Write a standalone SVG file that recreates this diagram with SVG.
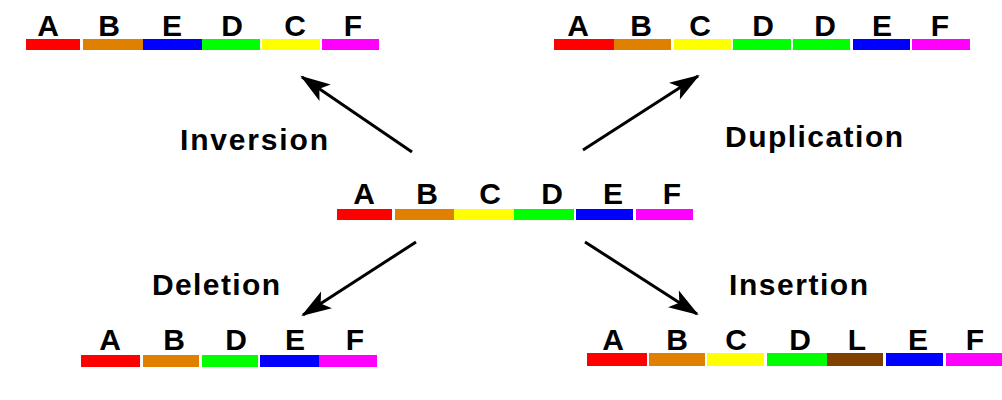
<svg xmlns="http://www.w3.org/2000/svg" width="1002" height="400" viewBox="0 0 1002 400">
<defs>
<style>
.lt{font-family:"Liberation Sans",Arial,sans-serif;font-weight:bold;font-size:30px;fill:#000;text-anchor:middle}
.lb{font-family:"Liberation Sans",Arial,sans-serif;font-weight:bold;font-size:30px;fill:#000}
.r{fill:#ff0000}.o{fill:#e08000}.y{fill:#ffff00}.g{fill:#00ff00}.b{fill:#0000ff}.m{fill:#ff00ff}.br{fill:#804000}
.arr{stroke:#000;stroke-width:3;fill:none;marker-end:url(#ah)}
</style>
<marker id="ah" viewBox="-30 -11 34 22" refX="0" refY="0" markerWidth="34" markerHeight="22" markerUnits="userSpaceOnUse" orient="auto">
<path d="M2,0 L-28,-10 L-21,0 L-28,10 Z" fill="#000"/>
</marker>
</defs>
<rect width="1002" height="400" fill="#fff"/>

<g id="inversion-chrom">
<rect class="r" x="26" y="39" width="54" height="11"/>
<rect class="o" x="83" y="39" width="60" height="11"/>
<rect class="b" x="143" y="39" width="59" height="11"/>
<rect class="g" x="202" y="39" width="58" height="11"/>
<rect class="y" x="262" y="39" width="58" height="11"/>
<rect class="m" x="322" y="39" width="57" height="11"/>
<text class="lt" x="48" y="35.5">A</text>
<text class="lt" x="109" y="35.5">B</text>
<text class="lt" x="172" y="35.5">E</text>
<text class="lt" x="232" y="35.5">D</text>
<text class="lt" x="295" y="35.5">C</text>
<text class="lt" x="353" y="35.5">F</text>
</g>

<g id="duplication-chrom">
<rect class="r" x="554" y="39" width="60" height="11"/>
<rect class="o" x="614" y="39" width="57" height="11"/>
<rect class="y" x="674" y="39" width="57" height="11"/>
<rect class="g" x="733" y="39" width="58" height="11"/>
<rect class="g" x="793" y="39" width="57" height="11"/>
<rect class="b" x="853" y="39" width="57" height="11"/>
<rect class="m" x="912" y="39" width="58" height="11"/>
<text class="lt" x="578" y="35.5">A</text>
<text class="lt" x="641" y="35.5">B</text>
<text class="lt" x="700" y="35.5">C</text>
<text class="lt" x="763" y="35.5">D</text>
<text class="lt" x="825" y="35.5">D</text>
<text class="lt" x="882" y="35.5">E</text>
<text class="lt" x="940" y="35.5">F</text>
</g>

<g id="original-chrom">
<rect class="r" x="337" y="209" width="55" height="11"/>
<rect class="o" x="395" y="209" width="59" height="11"/>
<rect class="y" x="454" y="209" width="60" height="11"/>
<rect class="g" x="514" y="209" width="60" height="11"/>
<rect class="b" x="576" y="209" width="57" height="11"/>
<rect class="m" x="636" y="209" width="57" height="11"/>
<text class="lt" x="364" y="204">A</text>
<text class="lt" x="427" y="204">B</text>
<text class="lt" x="490" y="204">C</text>
<text class="lt" x="552" y="204">D</text>
<text class="lt" x="613" y="204">E</text>
<text class="lt" x="672" y="204">F</text>
</g>

<g id="deletion-chrom">
<rect class="r" x="81" y="355" width="59" height="12"/>
<rect class="o" x="143" y="355" width="56" height="12"/>
<rect class="g" x="202" y="355" width="56" height="12"/>
<rect class="b" x="260" y="355" width="59" height="12"/>
<rect class="m" x="319" y="355" width="58" height="12"/>
<text class="lt" x="110" y="350">A</text>
<text class="lt" x="174" y="350">B</text>
<text class="lt" x="236" y="350">D</text>
<text class="lt" x="295" y="350">E</text>
<text class="lt" x="355" y="350">F</text>
</g>

<g id="insertion-chrom">
<rect class="r" x="587" y="353" width="60" height="13"/>
<rect class="o" x="649" y="353" width="56" height="13"/>
<rect class="y" x="707" y="353" width="57" height="13"/>
<rect class="g" x="767" y="353" width="60" height="13"/>
<rect class="br" x="827" y="353" width="56" height="13"/>
<rect class="b" x="886" y="353" width="57" height="13"/>
<rect class="m" x="946" y="353" width="56" height="13"/>
<text class="lt" x="613" y="350">A</text>
<text class="lt" x="677" y="350">B</text>
<text class="lt" x="736" y="350">C</text>
<text class="lt" x="800" y="350">D</text>
<text class="lt" x="857" y="350">L</text>
<text class="lt" x="918" y="350">E</text>
<text class="lt" x="975" y="350">F</text>
</g>

<g id="labels">
<text class="lb" x="180" y="150" textLength="148" lengthAdjust="spacing">Inversion</text>
<text class="lb" x="725" y="147" textLength="178" lengthAdjust="spacing">Duplication</text>
<text class="lb" x="152" y="295" textLength="128" lengthAdjust="spacing">Deletion</text>
<text class="lb" x="729" y="295" textLength="139" lengthAdjust="spacing">Insertion</text>
</g>

<g id="connectors">
<line class="arr" x1="412" y1="152" x2="302" y2="77"/>
<line class="arr" x1="583" y1="150" x2="698" y2="76"/>
<line class="arr" x1="416" y1="242" x2="303" y2="315"/>
<line class="arr" x1="585" y1="242" x2="697" y2="314"/>
</g>
</svg>
